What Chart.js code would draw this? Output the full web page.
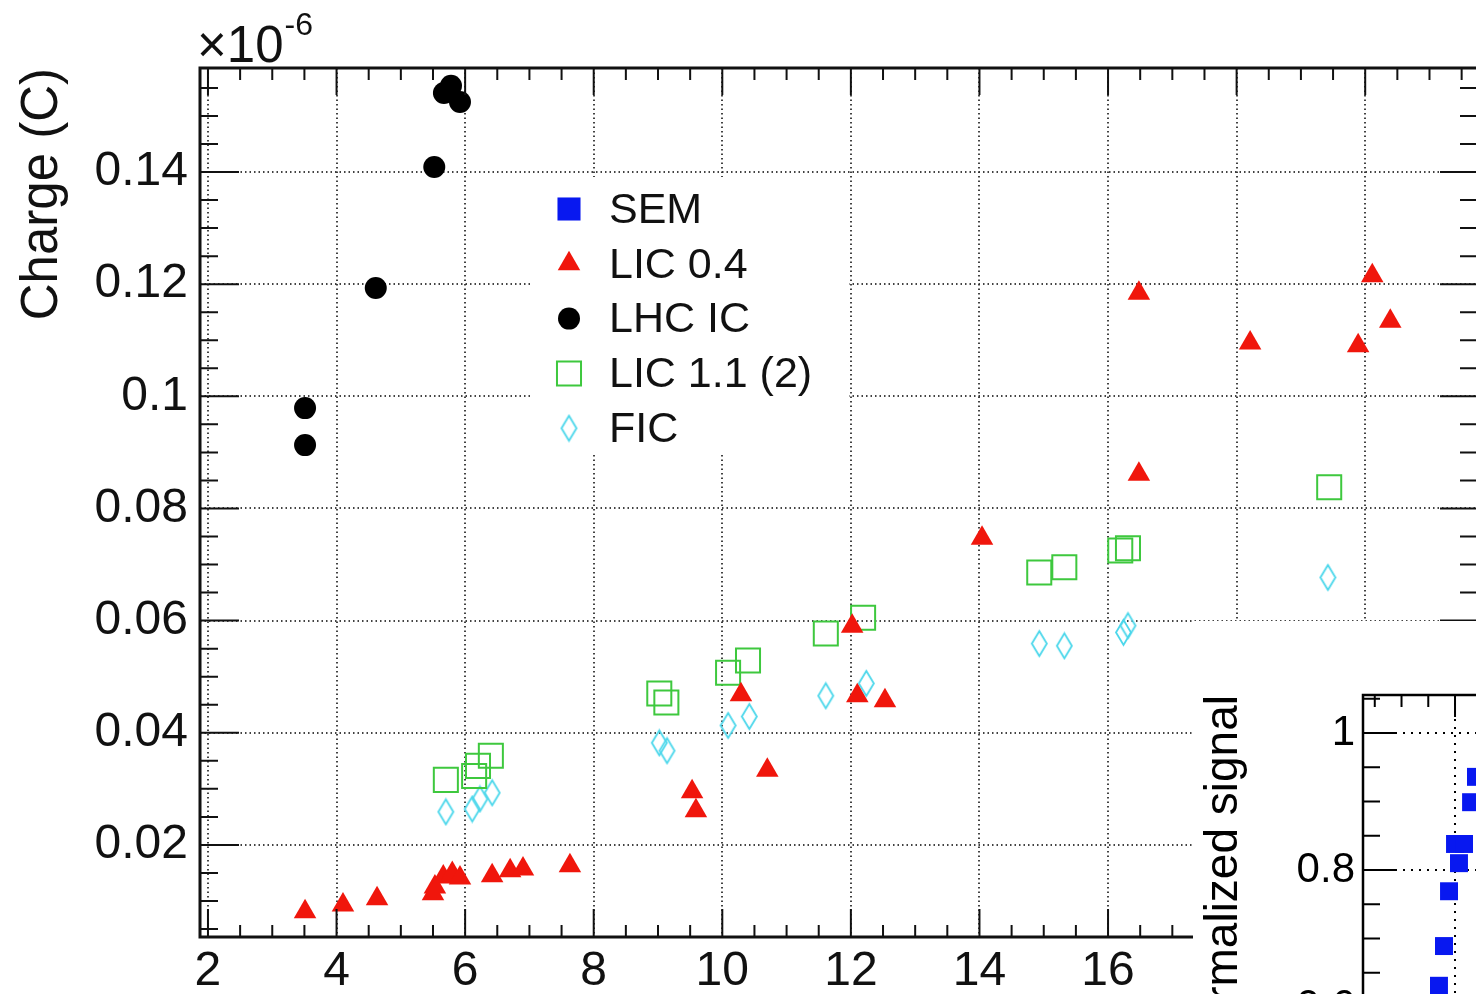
<!DOCTYPE html>
<html>
<head>
<meta charset="utf-8">
<script src="https://cdn.jsdelivr.net/npm/chart.js@4.4.1/dist/chart.umd.min.js"></script>
<style>
  html, body { margin: 0; padding: 0; width: 1476px; height: 994px; overflow: hidden; background: #fff; }
  #main { position: absolute; left: 0; top: 0; }
  #inset { position: absolute; left: 1193px; top: 621px; }
</style>
</head>
<body>
<canvas id="main" width="1530" height="994"></canvas>
<canvas id="inset" width="520" height="560"></canvas>
<script>
// charge values are in units of 1e-6 C (axis shows the x10^-6 factor)
const xMajor = [2, 4, 6, 8, 10, 12, 14, 16, 18, 20];
const xLabels = ['2', '4', '6', '8', '10', '12', '14', '16', '18', '20'];
const yMajor = [0.02, 0.04, 0.06, 0.08, 0.1, 0.12, 0.14];
const yLabels = ['0.02', '0.04', '0.06', '0.08', '0.1', '0.12', '0.14'];

const lhcX = [3.51, 3.51, 4.61, 5.52, 5.67, 5.78, 5.92];
const lhcY = [0.0979, 0.0913, 0.1193, 0.1409, 0.1541, 0.1554, 0.1525];

const lic04X = [3.51, 4.10, 4.63, 5.50, 5.53, 5.66, 5.80, 5.92, 6.42, 6.70, 6.90, 7.63,
                9.53, 9.59, 10.29, 10.70, 12.02, 12.10, 12.53, 14.04, 16.48, 16.48,
                18.21, 19.89, 20.11, 20.39];
const lic04Y = [0.0081, 0.0093, 0.0104, 0.0113, 0.0125, 0.0143, 0.0149, 0.0141, 0.0145, 0.0154, 0.0157, 0.0163,
                0.0295, 0.0261, 0.0468, 0.0333, 0.0590, 0.0466, 0.0457, 0.0747, 0.0861, 0.1184,
                0.1095, 0.1090, 0.1215, 0.1134];

const lic11X = [5.70, 6.14, 6.20, 6.40, 9.02, 9.13, 10.09, 10.40, 11.61, 12.19, 14.93, 15.32, 16.19, 16.31, 19.44];
const lic11Y = [0.0316, 0.0323, 0.0341, 0.0359, 0.0470, 0.0454, 0.0507, 0.0529, 0.0577, 0.0605, 0.0686, 0.0695, 0.0725, 0.0729, 0.0838];

const ficX = [5.70, 6.11, 6.23, 6.42, 9.02, 9.14, 10.09, 10.42, 11.61, 12.24, 14.93, 15.32, 16.24, 16.31, 19.42];
const ficY = [0.0259, 0.0264, 0.0282, 0.0293, 0.0382, 0.0368, 0.0413, 0.0429, 0.0466, 0.0488, 0.0559, 0.0555, 0.0579, 0.0591, 0.0677];

// inset: SEM normalized signal
const insetXMajor = [1, 2, 3];
const insetYMajor = [0.6, 0.8, 1];
const insetYLabels = ['0.6', '0.8', '1'];
const semX = [1.196, 1.150, 1.000, 1.084, 1.037, 0.944, 0.897, 0.850];
const semY = [0.936, 0.899, 0.838, 0.838, 0.810, 0.769, 0.689, 0.631];

const RED = 'rgb(240,22,12)';
const GREEN = 'rgb(62,200,62)';
const CYAN = 'rgb(75,215,235)';
const BLUE = 'rgb(8,24,240)';
const FONT = '"Liberation Sans", Arial, Helvetica, sans-serif';
Chart.defaults.font.family = FONT;

function pts(xs, ys) {
  return xs.map((x, i) => ({ x: x, y: ys[i] }));
}

// positions of every tick mark (major + minor)
function tickRange(first, count, step) {
  const out = [];
  for (let i = 0; i < count; i++) out.push(+(first + i * step).toFixed(4));
  return out;
}

// open narrow diamond, like ROOT marker 27
function diamondMarker(w, h, color, lw) {
  const c = document.createElement('canvas');
  c.width = w + 4;
  c.height = h + 4;
  const g = c.getContext('2d');
  g.strokeStyle = color;
  g.lineWidth = lw;
  g.beginPath();
  g.moveTo(c.width / 2, 2);
  g.lineTo(c.width - 2, c.height / 2);
  g.lineTo(c.width / 2, c.height - 2);
  g.lineTo(2, c.height / 2);
  g.closePath();
  g.stroke();
  return c;
}

const whiteBg = {
  id: 'whiteBg',
  beforeDraw(chart) {
    const c = chart.ctx;
    c.save();
    c.fillStyle = '#fff';
    c.fillRect(0, 0, chart.width, chart.height);
    c.restore();
  }
};

// ROOT style frame with inward ticks on all four sides
const frameTicks = {
  id: 'frameTicks',
  afterDatasetsDraw(chart, args, o) {
    const { ctx, chartArea: a } = chart;
    const sx = chart.scales.x, sy = chart.scales.y;
    const isMajor = (v, list) => list.some(m => Math.abs(m - v) < 1e-9);
    ctx.save();
    ctx.strokeStyle = o.color;
    ctx.lineWidth = o.tickWidth;
    ctx.beginPath();
    o.xTicks.forEach(v => {
      const px = sx.getPixelForValue(v);
      if (px <= a.left || px >= a.right) return;
      const k = isMajor(v, o.xMajor) ? 0 : 1;
      ctx.moveTo(px, a.bottom); ctx.lineTo(px, a.bottom - o.bottom[k]);
      ctx.moveTo(px, a.top); ctx.lineTo(px, a.top + o.top[k]);
    });
    o.yTicks.forEach(v => {
      const py = sy.getPixelForValue(v);
      if (py <= a.top || py >= a.bottom) return;
      const k = isMajor(v, o.yMajor) ? 0 : 1;
      ctx.moveTo(a.left, py); ctx.lineTo(a.left + o.left[k], py);
      ctx.moveTo(a.right, py); ctx.lineTo(a.right - o.right[k], py);
    });
    ctx.stroke();
    ctx.lineWidth = o.frameWidth;
    ctx.strokeRect(a.left, a.top, a.right - a.left, a.bottom - a.top);

    if (o.exponent) {
      const e = o.exponent;
      ctx.fillStyle = '#111';
      ctx.textBaseline = 'alphabetic';
      ctx.textAlign = 'left';
      ctx.font = e.size + 'px ' + FONT;
      ctx.fillText(e.base, e.x, e.y);
      const w = ctx.measureText(e.base).width;
      ctx.font = e.supSize + 'px ' + FONT;
      ctx.fillText(e.sup, e.x + w + 1, e.y - e.rise);
    }
    ctx.restore();
  }
};

// legend box drawn inside the frame
const boxLegend = {
  id: 'boxLegend',
  afterDatasetsDraw(chart, args, o) {
    const ctx = chart.ctx;
    ctx.save();
    ctx.fillStyle = '#fff';
    ctx.fillRect(o.x, o.y, o.w, o.h);
    ctx.font = o.size + 'px ' + FONT;
    ctx.textBaseline = 'middle';
    ctx.textAlign = 'left';
    chart.data.datasets.forEach((ds, i) => {
      const cy = o.rowTop + i * o.rowStep;
      ctx.fillStyle = ds.backgroundColor;
      ctx.strokeStyle = ds.borderColor;
      ctx.lineWidth = ds.borderWidth;
      Chart.helpers.drawPoint(ctx, {
        pointStyle: ds.pointStyle, radius: ds.pointRadius, rotation: 0, borderWidth: ds.borderWidth
      }, o.markerX, cy);
      ctx.fillStyle = '#111';
      ctx.fillText(ds.label, o.textX, cy + 2);
    });
    ctx.restore();
  }
};

const gridColor = 'rgba(45,45,45,0.9)';

new Chart(document.getElementById('main'), {
  type: 'scatter',
  data: {
    datasets: [
      { label: 'SEM', data: [], pointStyle: 'rect', pointRadius: 16.3,
        backgroundColor: BLUE, borderColor: BLUE, borderWidth: 0 },
      { label: 'LIC 0.4', data: pts(lic04X, lic04Y), pointStyle: 'triangle', pointRadius: 13,
        backgroundColor: RED, borderColor: RED, borderWidth: 0 },
      { label: 'LHC IC', data: pts(lhcX, lhcY), pointStyle: 'circle', pointRadius: 11,
        backgroundColor: '#000', borderColor: '#000', borderWidth: 0 },
      { label: 'LIC 1.1 (2)', data: pts(lic11X, lic11Y), pointStyle: 'rect', pointRadius: 17,
        backgroundColor: 'rgba(0,0,0,0)', borderColor: GREEN, borderWidth: 2 },
      { label: 'FIC', data: pts(ficX, ficY), pointStyle: diamondMarker(15, 25, CYAN, 1.8), pointRadius: 12,
        backgroundColor: 'rgba(0,0,0,0)', borderColor: CYAN, borderWidth: 0 }
    ]
  },
  options: {
    responsive: false,
    animation: false,
    devicePixelRatio: 1,
    events: [],
    layout: { padding: { top: 68, right: 51, left: 0, bottom: 0 } },
    plugins: {
      legend: { display: false },
      tooltip: { enabled: false },
      frameTicks: {
        color: '#111', tickWidth: 2, frameWidth: 3,
        xMajor: xMajor, xTicks: tickRange(2, 40, 0.5),
        yMajor: yMajor, yTicks: tickRange(0.005, 31, 0.005),
        bottom: [28, 12], top: [27, 12], left: [39, 18], right: [39, 19],
        exponent: { base: '\u00d710', sup: '-6', x: 197, y: 62, size: 51, supSize: 32, rise: 27 }
      },
      boxLegend: {
        x: 532, y: 177, w: 317, h: 276,
        markerX: 569, textX: 609, rowTop: 209, rowStep: 54.8, size: 43
      }
    },
    scales: {
      x: {
        type: 'linear', min: 1.876, max: 21.77,
        afterBuildTicks: s => { s.ticks = xMajor.map(v => ({ value: v })); },
        afterFit: s => { s.height = 57; },
        ticks: {
          autoSkip: false, maxRotation: 0, padding: 6, color: '#111',
          font: { size: 48 }, callback: (v, i) => xLabels[i]
        },
        grid: { color: gridColor, lineWidth: 2, drawTicks: false },
        border: { display: false, dash: [1.5, 3] }
      },
      y: {
        type: 'linear', min: 0.00358, max: 0.15855,
        afterBuildTicks: s => { s.ticks = yMajor.map(v => ({ value: v })); },
        afterFit: s => { s.width = 200; },
        ticks: {
          autoSkip: false, padding: 12, color: '#111',
          font: { size: 48 }, callback: (v, i) => yLabels[i]
        },
        grid: { color: gridColor, lineWidth: 2, drawTicks: false },
        border: { display: false, dash: [1.5, 3] },
        title: {
          display: true, text: 'Charge (C)', align: 'end', color: '#111',
          font: { size: 51 }, padding: { top: 12, bottom: 0 }
        }
      }
    }
  },
  plugins: [frameTicks, boxLegend]
});

new Chart(document.getElementById('inset'), {
  type: 'scatter',
  data: {
    datasets: [
      { label: 'SEM', data: pts(semX, semY), pointStyle: 'rect', pointRadius: 12.7,
        backgroundColor: BLUE, borderColor: BLUE, borderWidth: 0 }
    ]
  },
  options: {
    responsive: false,
    animation: false,
    devicePixelRatio: 1,
    events: [],
    layout: { padding: { top: 74, right: 20, left: 0, bottom: 0 } },
    plugins: {
      legend: { display: false },
      tooltip: { enabled: false },
      frameTicks: {
        color: '#000', tickWidth: 2, frameWidth: 2.5,
        xMajor: insetXMajor, xTicks: tickRange(0.25, 12, 0.25),
        yMajor: insetYMajor, yTicks: tickRange(0.45, 13, 0.05),
        bottom: [22, 12], top: [22, 12], left: [34, 17], right: [34, 17]
      }
    },
    scales: {
      x: {
        type: 'linear', min: 0.14, max: 3.224,
        afterBuildTicks: s => { s.ticks = insetXMajor.map(v => ({ value: v })); },
        afterFit: s => { s.height = 60; },
        ticks: { display: false },
        grid: { color: '#000', lineWidth: 2, drawTicks: false },
        border: { display: false, dash: [2, 6] }
      },
      y: {
        type: 'linear', min: 0.4336, max: 1.0555,
        afterBuildTicks: s => { s.ticks = insetYMajor.map(v => ({ value: v })); },
        afterFit: s => { s.width = 170; },
        ticks: {
          autoSkip: false, padding: 8, color: '#000',
          font: { size: 42 }, callback: (v, i) => insetYLabels[i]
        },
        grid: { color: '#000', lineWidth: 2, drawTicks: false },
        border: { display: false, dash: [2, 6] },
        title: {
          display: true, text: 'Normalized signal', align: 'end', color: '#000',
          font: { size: 46 }, padding: { top: 4, bottom: 0 }
        }
      }
    }
  },
  plugins: [whiteBg, frameTicks]
});
</script>
</body>
</html>
